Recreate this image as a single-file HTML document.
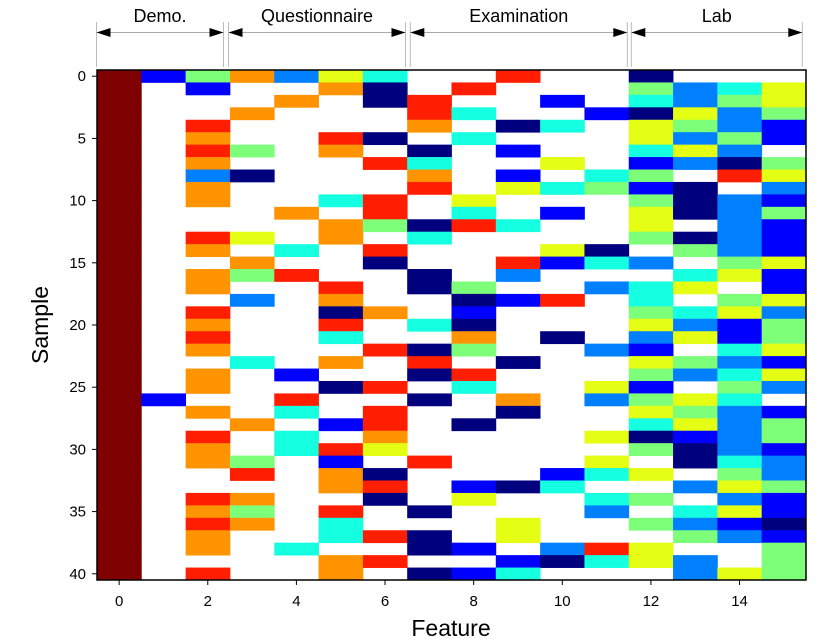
<!DOCTYPE html>
<html><head><meta charset="utf-8"><style>
html,body{margin:0;padding:0;background:#fff;}
svg{display:block;font-family:"Liberation Sans","DejaVu Sans",sans-serif;}
</style></head><body>
<svg id="chart" width="830" height="639" viewBox="0 0 830 639" xmlns="http://www.w3.org/2000/svg">
<g id="cells"></g>
<g id="axes"></g>
<g id="groups"></g>
</svg>
<script>
// Level codes: N navy, B blue, A azure, C cyan, G green, Y yellow, O orange, R red, D dark red, W missing
const rowCodes = [
"DBGOAYCWWRWWNWWW","DWBWWONWRWWWGACY","DWWWOWNRWWBWCAGY","DWWOWWWRCWWBNYAG",
"DWRWWWWOWNCWYGAB","DWOWWRNWCWWWYAGB","DWRGWOWNWBWWCYAW","DWOWWWRCWWYWBANG",
"DWANWWWOWBWCGWRY","DWOWWWWRWYCGBNWA","DWOWWCRWYWWWGNAB","DWWWOWRWCWBWYNAG",
"DWWWWOGNRCWWYWAB","DWRYWOWCWWWWGNAB","DWOWCWRWWWYNWGAB","DWWOWWNWWRBCAWGY",
"DWOGRWWNWAWWWCYB","DWOWWRWNGWWACYWB","DWWAWOWWNBRWCWGY","DWRWWNOWBWWWGCYA",
"DWOWWRWCNWWWYABG","DWRWWCWWOWNWAYBG","DWOWWWRNGWWABWCY","DWWCWOWRWNWWYGAB",
"DWOWBWWNRWWWGACY","DWOWWNRWCWWYBWGA","DBWWRWWNWOWAGYCW","DWOWCWRWWNWWYGAB",
"DWWOWBRWNWWWCYAG","DWRWCWOWWWWYNBAG","DWOWCRYWWWWWGNAB","DWOGWBWRWWWYWNCA",
"DWWRWONWWWBCYWGA","DWWWWORWBNCWWAYG","DWROWWNWYWWCGWAB","DWOGWRWNWWWAWCYB",
"DWROWCWWWYWWGABN","DWOWWCRNWYWWWGAB","DWOWCWWNBWARYWWG","DWWWWORWWBNCYAWG",
"DWRWWOWNBCWWWAYG"
];
const levelKeys = ["N","B","A","C","G","Y","O","R","D"];
const palette = ["#00007f","#0000ff","#0080ff","#15ffe1","#7dff7a","#e4ff13","#ff9400","#ff1e00","#7f0000"];
const xTicks = [0,2,4,6,8,10,12,14];
const yTicks = [0,5,10,15,20,25,30,35,40];
const groupNames = ["Demo.","Questionnaire","Examination","Lab"];
const groupStarts = [0,2.5,6.5,11.5];
const groupEnds = [2.4,6.4,11.4,15.4];

const NS="http://www.w3.org/2000/svg";
const L=97,R=806,T=70,B=580;
const nCols=16,nRows=rowCodes.length;
const cw=(R-L)/nCols, ch=(B-T)/nRows;
const xs=c=>L+(c+0.5)*cw;
const ys=r=>T+(r+0.5)*ch;
function mk(tag,attrs,parent){const e=document.createElementNS(NS,tag);for(const k in attrs)e.setAttribute(k,attrs[k]);parent.appendChild(e);return e;}
const cells=document.getElementById('cells');
rowCodes.forEach((row,r)=>{
  for(let c=0;c<nCols;c++){
    const lv=levelKeys.indexOf(row[c]);
    if(lv<0)continue;
    const e=mk('rect',{x:(xs(c)-cw/2).toFixed(2),y:(ys(r)-ch/2).toFixed(2),width:(cw+0.4).toFixed(2),height:(ch+0.4).toFixed(2),fill:palette[lv]},cells);
    
    
  }
});
const ax=document.getElementById('axes');
const frame=mk('rect',{x:L,y:T,width:R-L,height:B-T,fill:'none',stroke:'#000','stroke-width':1.5},ax);


xTicks.forEach(v=>{
  mk('line',{x1:xs(v),x2:xs(v),y1:B,y2:B+5,stroke:'#000'},ax);
  const t=mk('text',{x:xs(v),y:B+26,'text-anchor':'middle','font-size':15},ax);t.textContent=v;
  
  
});
yTicks.forEach(v=>{
  mk('line',{x1:L-5,x2:L,y1:ys(v),y2:ys(v),stroke:'#000'},ax);
  const t=mk('text',{x:L-11,y:ys(v)+5,'text-anchor':'end','font-size':15},ax);t.textContent=v;
  
  
});
const xt=mk('text',{x:451,y:636,'text-anchor':'middle','font-size':23},ax);xt.textContent='Feature';


const yt=mk('text',{x:48,y:325,'text-anchor':'middle','font-size':23,transform:'rotate(-90 48 325)'},ax);yt.textContent='Sample';


const gg=document.getElementById('groups');
groupNames.forEach((n,i)=>{
  const x1=L+(groupStarts[i]+0.5)*cw-0.5+(i===0?0:2), x2=L+(groupEnds[i]+0.5)*cw-0.5;
  const a=i===0?96.5:[0,228.5,410.3,631.3][i];
  const b=[223.5,405.5,627.3,802.3][i];
  const g=mk('g',{},gg);
  
  
  mk('line',{x1:a,x2:a,y1:22,y2:67,stroke:'#bbb','stroke-width':1},g);
  mk('line',{x1:b,x2:b,y1:22,y2:67,stroke:'#bbb','stroke-width':1},g);
  mk('line',{x1:a,x2:b,y1:32.5,y2:32.5,stroke:'#aaa','stroke-width':1},g);
  mk('polygon',{points:`${a},32.5 ${a+14},28 ${a+14},37`,fill:'#000'},g);
  mk('polygon',{points:`${b},32.5 ${b-14},28 ${b-14},37`,fill:'#000'},g);
  const t=mk('text',{x:(a+b)/2,y:22,'text-anchor':'middle','font-size':18},g);t.textContent=n;
  
  
});
</script>
</body></html>
